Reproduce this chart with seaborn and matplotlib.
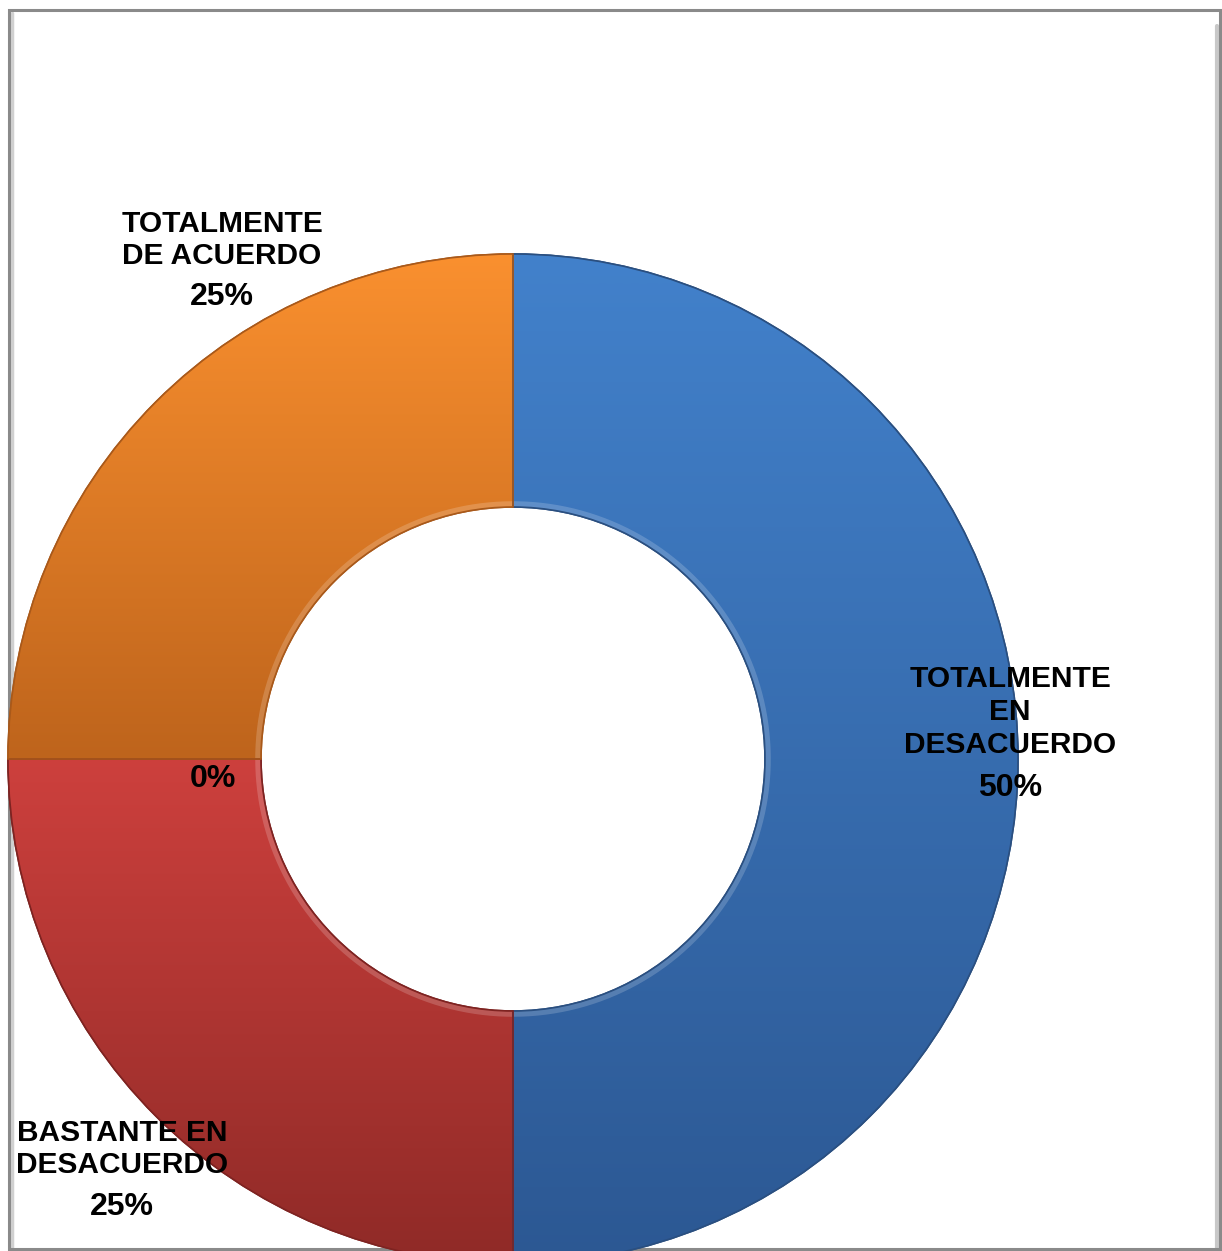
import numpy as np
import matplotlib
matplotlib.use("Agg")
import matplotlib.pyplot as plt
from matplotlib.colors import LinearSegmentedColormap
from matplotlib.patches import Rectangle, Wedge
import seaborn as sns

# Survey answers, clockwise from twelve o'clock
categories = ["TOTALMENTE\nEN\nDESACUERDO", "BASTANTE EN\nDESACUERDO", "", "TOTALMENTE\nDE ACUERDO"]
shares = [50, 25, 0, 25]

# Top / bottom shades of each slice's vertical gradient
tops = ["#4281cb", "#cd403d", "#cd403d", "#fa902f"]
bottoms = ["#2c5893", "#8f2a27", "#8f2a27", "#be641c"]
edges = ["#2a4f80", "#7e2321", "#7e2321", "#a9591a"]

# Label anchor points (pixels, y up) for the category name block and percent
name_pos = [(1010, 539), (122, 102), None, (222, 1011)]
pct_pos = [(1010, 463), (122, 44), (213, 472), (222, 954)]

W, H = 1222, 1251
sns.set_theme(style="white")
plt.rcParams["font.family"] = ["Liberation Sans", "DejaVu Sans"]

fig = plt.figure(figsize=(W / 100, H / 100), dpi=100)
ax = fig.add_axes([0, 0, 1, 1])

cx, cy, R = 513, 492, 505
ring = 253
wedges, _ = ax.pie(
    shares, startangle=90, counterclock=False, center=(cx, cy), radius=R,
    colors=tops, wedgeprops=dict(width=ring, linewidth=1.2),
)

for w, top, bot, ec in zip(wedges, tops, bottoms, edges):
    w.set_edgecolor(ec)
    t1, t2 = np.radians(w.theta1), np.radians(w.theta2)
    th = np.linspace(t1, t2, 200)
    ys = np.concatenate([cy + R * np.sin(th), cy + (R - ring) * np.sin(th)])
    y0, y1 = ys.min(), ys.max()
    if y1 - y0 < 1:
        continue
    cmap = LinearSegmentedColormap.from_list("g", [bot, top])
    grad = np.linspace(0, 1, 256).reshape(-1, 1)
    im = ax.imshow(grad, cmap=cmap, origin="lower", aspect="auto",
                   extent=[cx - R, cx + R, y0, y1], zorder=w.get_zorder() + 0.1,
                   interpolation="bicubic")
    im.set_clip_path(w)
    # soft bevel highlight along the inner rim
    ax.plot(cx + (R - ring + 3) * np.cos(th), cy + (R - ring + 3) * np.sin(th),
            color="white", alpha=0.18, lw=4, zorder=w.get_zorder() + 0.2,
            solid_capstyle="butt")
    # outline on top of the gradient
    ax.add_patch(Wedge((cx, cy), R, w.theta1, w.theta2, width=ring,
                       facecolor="none", edgecolor=ec, lw=1.2,
                       zorder=w.get_zorder() + 0.3))

for name, v, npos, ppos in zip(categories, shares, name_pos, pct_pos):
    if name and npos:
        ax.text(npos[0], npos[1], name, ha="center", va="center", fontsize=21.5,
                fontweight="bold", color="black", linespacing=1.22, zorder=10)
    ax.text(ppos[0], ppos[1], f"{v:.0f}%", ha="center", va="center", fontsize=23,
            fontweight="bold", color="black", zorder=10)

# chart frame with a light inner shadow
ax.add_patch(Rectangle((9, 2), 1211, 1239, facecolor="none", edgecolor="#8a8a8a",
                       lw=2.2, zorder=0.5))
ax.plot([12, 12], [2, 1238], color="#d0d0d0", lw=2.5, zorder=0.4)
ax.plot([1217, 1217], [2, 1225], color="#c8c8c8", lw=3, zorder=0.4)

ax.set_xlim(0, W)
ax.set_ylim(0, H)
ax.set_aspect("auto")
ax.axis("off")
fig.savefig("out.png", dpi=100)
